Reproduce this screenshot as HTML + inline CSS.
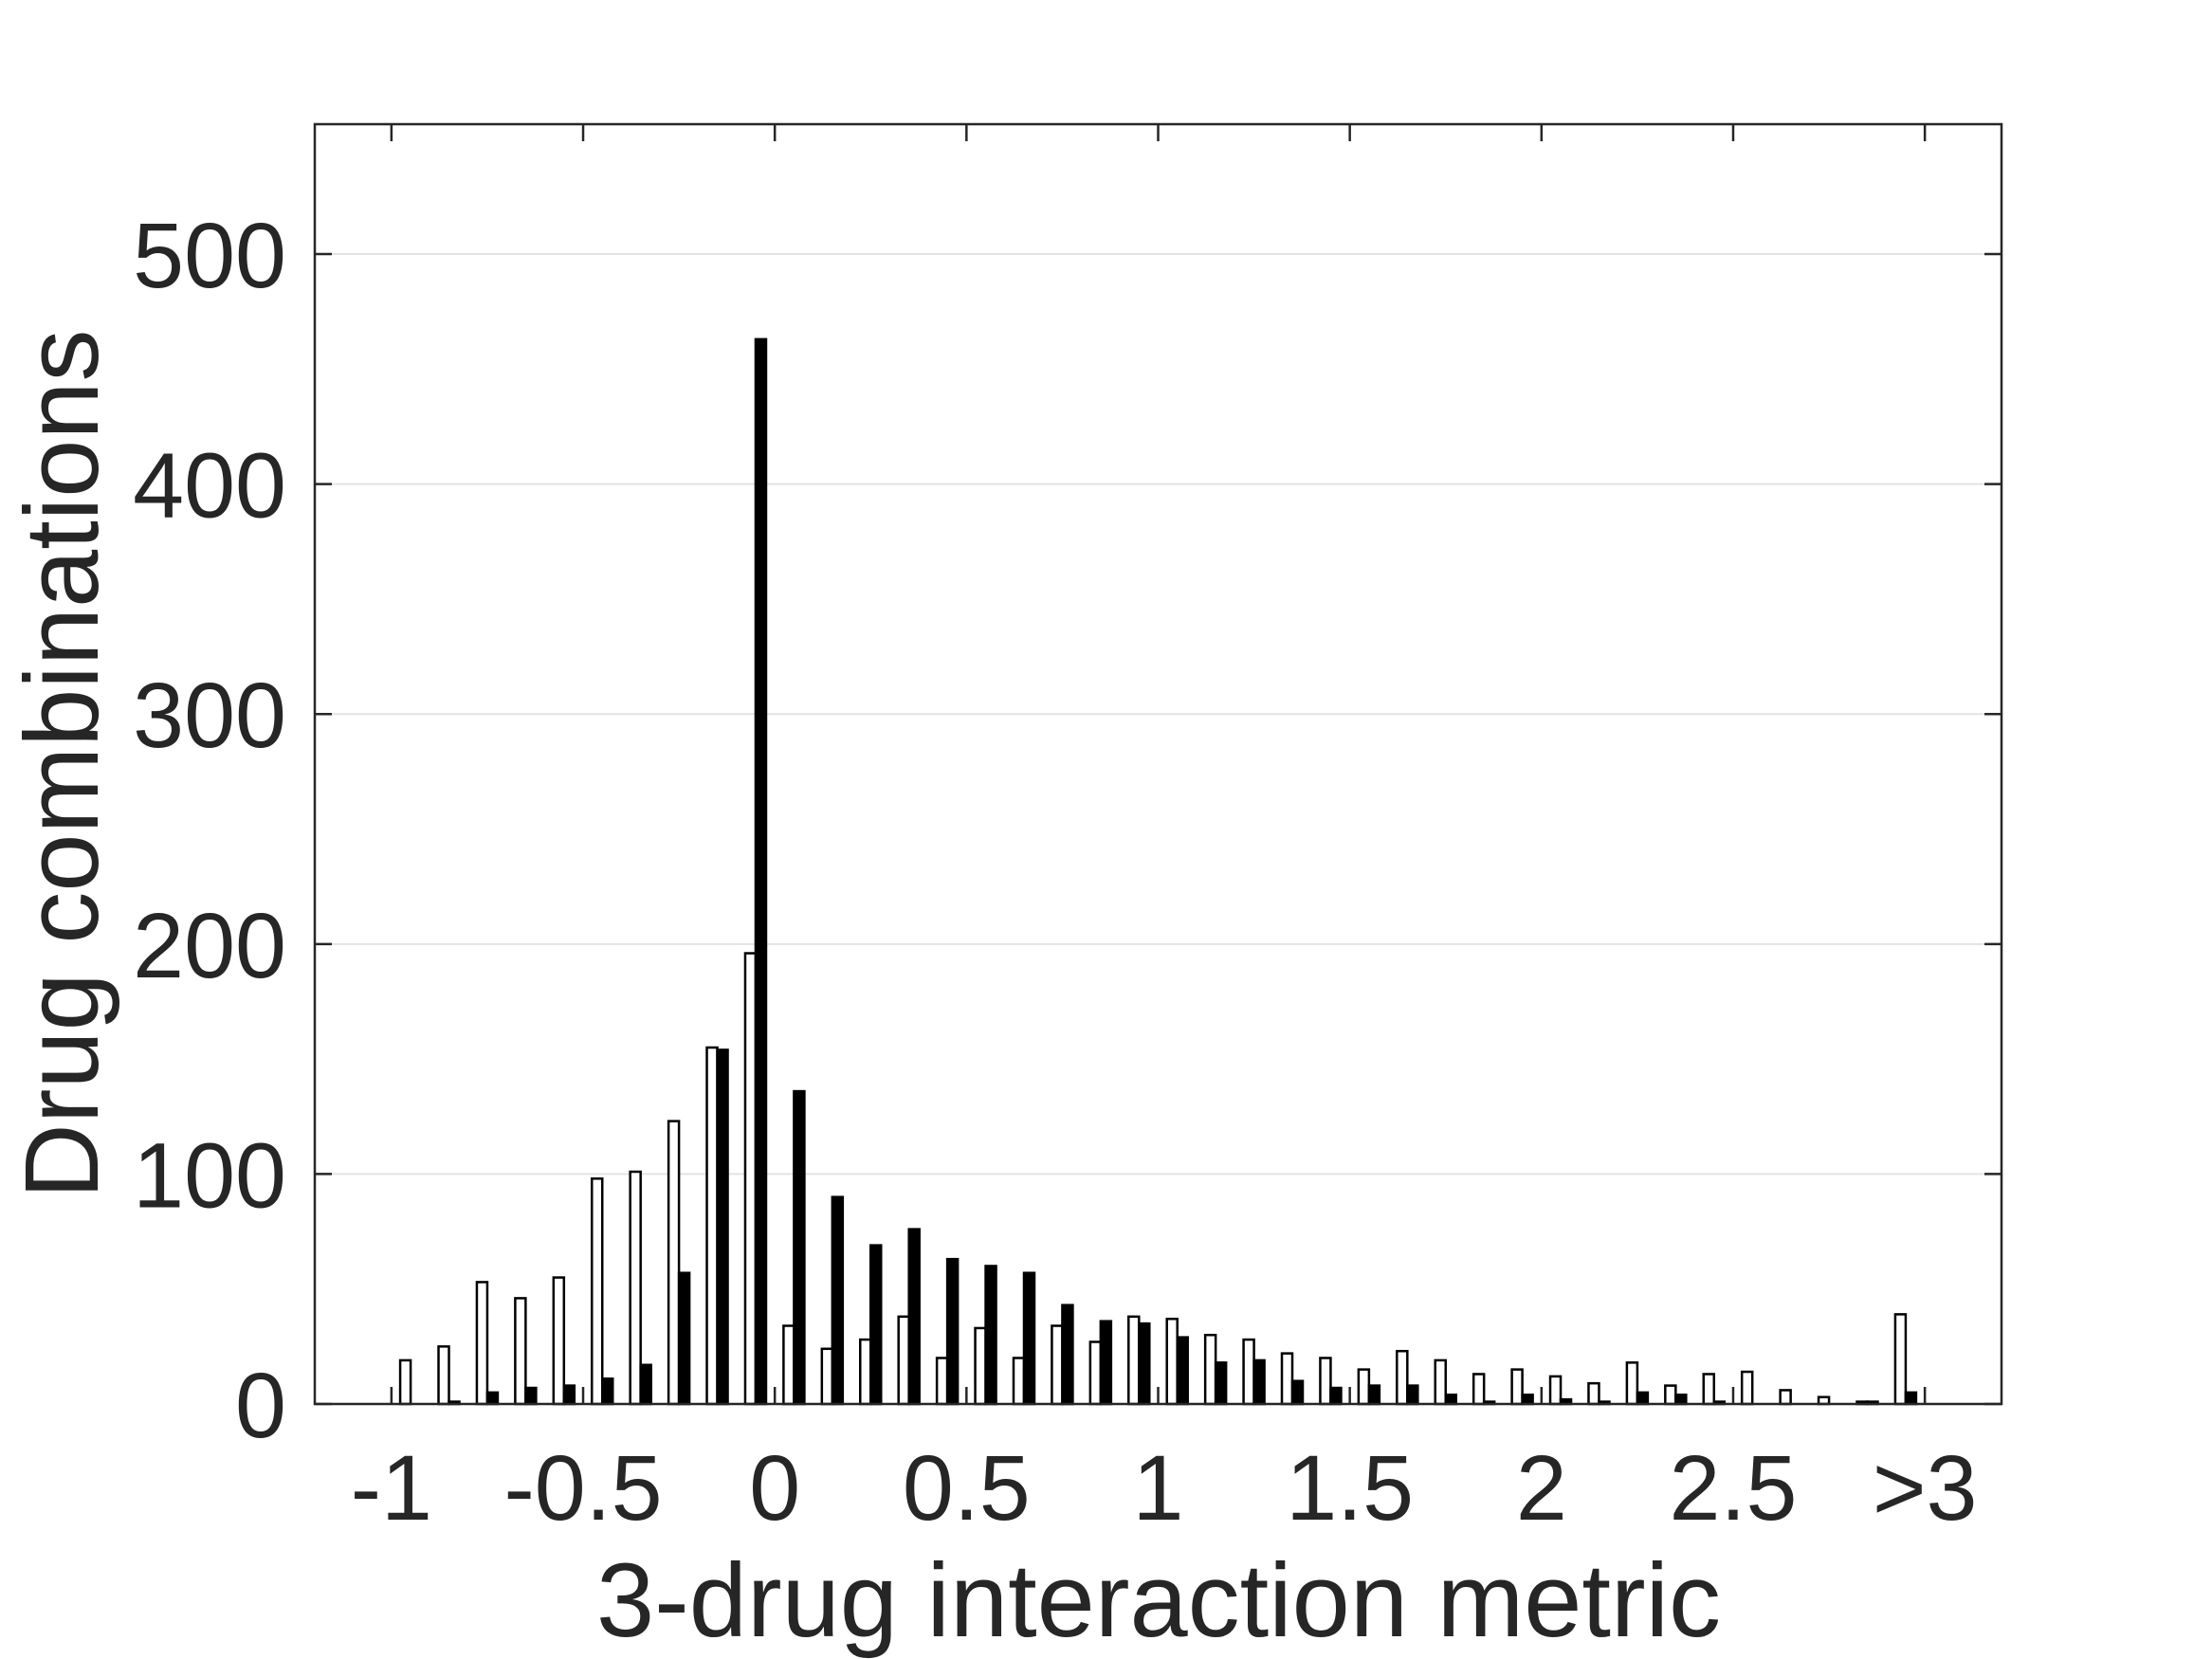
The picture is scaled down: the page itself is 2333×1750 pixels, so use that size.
<!DOCTYPE html>
<html><head><meta charset="utf-8">
<style>
html,body{margin:0;padding:0;background:#fff;}
svg{display:block;}
text{font-family:"Liberation Sans",Arial,sans-serif;fill:#262626;}
</style></head>
<body>
<svg id="chart" width="2333" height="1750" viewBox="0 0 2333 1750" xmlns="http://www.w3.org/2000/svg">
<rect x="0" y="0" width="2333" height="1750" fill="#fff"/>
<g id="grid"></g>
<g id="bars"></g>
<g id="axes"></g>
<text x="1222" y="1726" font-size="110" text-anchor="middle">3-drug interaction metric</text>
<text transform="translate(103,806) rotate(-90)" font-size="110" text-anchor="middle">Drug combinations</text>
</svg>
<script>
const binStarts = [-1.1,-1.0,-0.9,-0.8,-0.7,-0.6,-0.5,-0.4,-0.3,-0.2,-0.1,0,0.1,0.2,0.3,0.4,0.5,0.6,0.7,0.8,0.9,1.0,1.1,1.2,1.3,1.4,1.5,1.6,1.7,1.8,1.9,2.0,2.1,2.2,2.3,2.4,2.5,2.6,2.7,2.8,2.9];
const whiteValues = [0,19,25,53,46,55,98,101,123,155,196,34,24,28,38,20,33,20,34,27,38,37,30,28,22,20,15,23,19,13,15,12,9,18,8,13,14,6,3,1,39];
const blackValues = [0,0,1,5,7,8,11,17,57,154,463,136,90,69,76,63,60,57,43,36,35,29,18,19,10,7,8,8,4,1,4,2,1,5,4,1,0,0,0,1,5];
const xTickValues = [-1,-0.5,0,0.5,1,1.5,2,2.5,3];
const xTickLabels = ["-1","-0.5","0","0.5","1","1.5","2","2.5",">3"];
const yTickValues = [0,100,200,300,400,500];
const yTickLabels = ["0","100","200","300","400","500"];

const L=332,R=2111,T=131,B=1481;
const xMin=-1.2,xMax=3.2,yMax=556.5;
function xs(v){return L+(v-xMin)/(xMax-xMin)*(R-L);}
function ys(v){return B-v/yMax*(B-T);}
const NS="http://www.w3.org/2000/svg";
function mk(tag,attrs,parent){const e=document.createElementNS(NS,tag);for(const k in attrs)e.setAttribute(k,attrs[k]);parent.appendChild(e);return e;}
const grid=document.getElementById('grid'),bars=document.getElementById('bars'),axes=document.getElementById('axes');

yTickValues.forEach((v,i)=>{
  if(v>0){const g=mk('line',{x1:L,x2:R,y1:ys(v),y2:ys(v),stroke:'#e3e3e3','stroke-width':2},grid);
  
  }
});

const bw=11;
binStarts.forEach((b,i)=>{
  const c=xs(b+0.05);
  const w=mk('rect',{x:c-bw,y:ys(whiteValues[i]),width:bw,height:B-ys(whiteValues[i]),fill:'#fff',stroke:'#000','stroke-width':2.5},bars);
  
  
  const k=mk('rect',{x:c,y:ys(blackValues[i]),width:bw,height:B-ys(blackValues[i]),fill:'#000',stroke:'#000','stroke-width':2.5},bars);
  
  
});

const frame=mk('rect',{x:L,y:T,width:R-L,height:B-T,fill:'none',stroke:'#262626','stroke-width':2.5},axes);



xTickValues.forEach((v,i)=>{
  const x=xs(v);
  const t1=mk('line',{x1:x,x2:x,y1:B,y2:B-18,stroke:'#262626','stroke-width':2.5},axes);
  
  
  const t2=mk('line',{x1:x,x2:x,y1:T,y2:T+18,stroke:'#262626','stroke-width':2.5},axes);
  
  
  const lb=mk('text',{x:x,y:B+122,'font-size':97,'text-anchor':'middle'},axes);
  lb.textContent=xTickLabels[i];
  
  
});
yTickValues.forEach((v,i)=>{
  const y=ys(v);
  const t1=mk('line',{x1:L,x2:L+18,y1:y,y2:y,stroke:'#262626','stroke-width':2.5},axes);
  
  
  const t2=mk('line',{x1:R,x2:R-18,y1:y,y2:y,stroke:'#262626','stroke-width':2.5},axes);
  
  
  const lb=mk('text',{x:302,y:y+35,'font-size':97,'text-anchor':'end'},axes);
  lb.textContent=yTickLabels[i];
  
  
});
</script>
</body></html>
